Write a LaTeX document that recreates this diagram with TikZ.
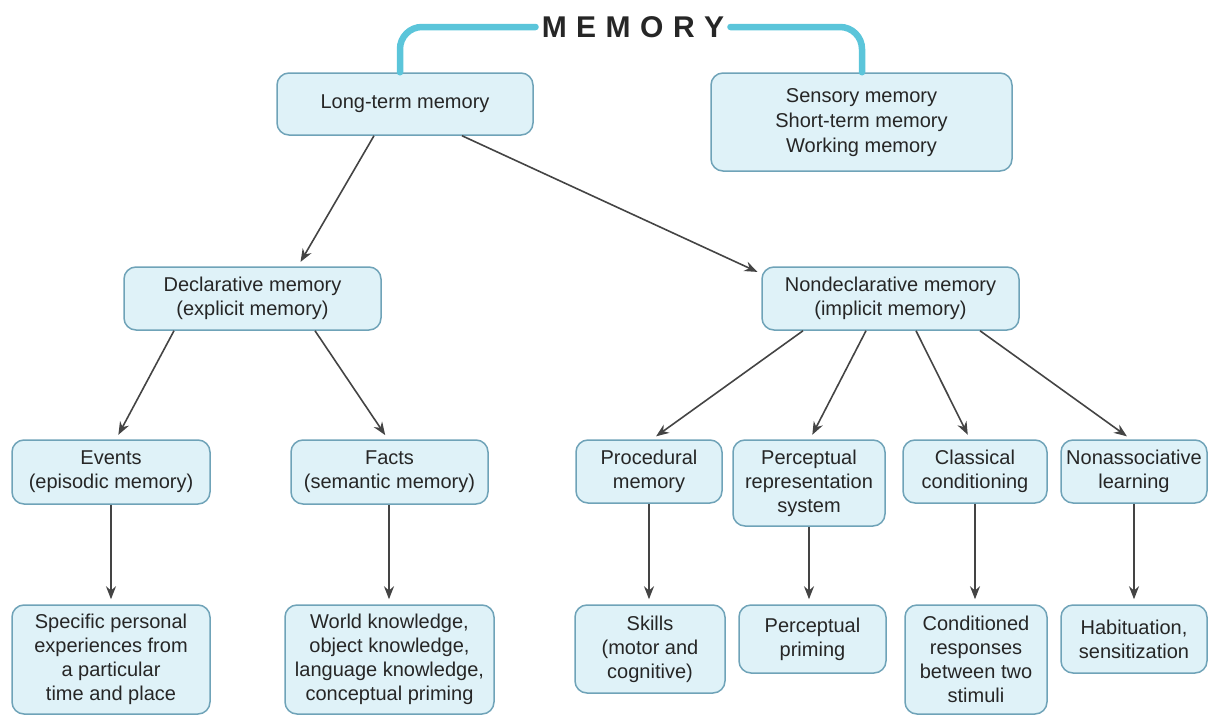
\documentclass[tikz,border=0pt]{standalone}
\usepackage{fontspec}
\setmainfont{Liberation Sans}
\usetikzlibrary{arrows.meta}
\definecolor{boxfill}{HTML}{DFF2F8}
\definecolor{boxborder}{HTML}{6FA3B8}
\definecolor{brk}{HTML}{5BC5DA}
\definecolor{arrc}{HTML}{444444}
\definecolor{textc}{HTML}{262626}
\tikzset{
  box/.style={draw=boxborder, fill=boxfill, rounded corners=12pt, line width=1.5pt,
    align=center, inner sep=0pt, text=textc, font=\fontsize{20}{24}\selectfont},
  arr/.style={draw=arrc, line width=1.6pt, -{Stealth[length=13pt,width=10pt]}, shorten >=5pt},
  bracket/.style={draw=brk, line width=6.5pt, line cap=round, rounded corners=22pt},
}
\begin{document}
\begin{tikzpicture}[x=1pt,y=-1pt]
\useasboundingbox (0,0) rectangle (1211,715);
% title
\node[inner xsep=6pt, inner ysep=0pt, text=textc, font=\fontsize{30}{30}\bfseries] (mem) at (633,27)
  {M\hspace{9.5pt}E\hspace{9.5pt}M\hspace{9.5pt}O\hspace{9.5pt}R\hspace{9.5pt}Y};
% level 1
\node[box, minimum width=256pt, minimum height=62pt] (ltm) at (405,104) {Long-term memory};
\node[box, minimum width=301pt, minimum height=98pt] (sens) at (861.5,122) {\rule{0pt}{16pt}Sensory memory\\[1pt]Short-term memory\\[1pt]Working memory};
% bracket
\draw[bracket] (mem.west) -| (ltm.north -| 400,0);
\draw[bracket] (mem.east) -| (sens.north -| 862,0);
% level 2
\node[box, minimum width=257pt, minimum height=63pt] (decl) at (252.5,298.5) {Declarative memory\\(explicit memory)};
\node[box, minimum width=257pt, minimum height=63pt] (nond) at (890.5,298.5) {Nondeclarative memory\\(implicit memory)};
% level 3
\node[box, minimum width=198pt, minimum height=64pt] (events) at (111,472) {Events\\(episodic memory)};
\node[box, minimum width=197pt, minimum height=64pt] (facts) at (389.5,472) {Facts\\(semantic memory)};
\node[box, minimum width=146pt, minimum height=63pt] (proc) at (649,471.5) {Procedural\\memory};
\node[box, minimum width=152pt, minimum height=86pt] (perc) at (809,483) {Perceptual\\representation\\system};
\node[box, minimum width=144pt, minimum height=63pt] (class) at (975,471.5) {Classical\\conditioning};
\node[box, minimum width=146pt, minimum height=63pt] (nonas) at (1134,471.5) {Nonassociative\\learning};
% level 4
\node[box, minimum width=198pt, minimum height=109pt] (spec) at (111,659.5) {Specific personal\\experiences from\\a particular\\time and place};
\node[box, minimum width=209pt, minimum height=109pt] (world) at (389.5,659.5) {World knowledge,\\object knowledge,\\language knowledge,\\conceptual priming};
\node[box, minimum width=150pt, minimum height=88pt] (skills) at (650,649) {Skills\\(motor and\\cognitive)};
\node[box, minimum width=147pt, minimum height=68pt] (pprim) at (812.5,639) {Perceptual\\priming};
\node[box, minimum width=142pt, minimum height=109pt] (cond) at (976,659.5) {Conditioned\\responses\\between two\\stimuli};
\node[box, minimum width=146pt, minimum height=68pt] (habit) at (1134,639) {Habituation,\\sensitization};
% arrows level 1 -> 2
\draw[arr] (ltm.south -| 374,0) -- (decl.north -| 298,0);
\draw[arr] (ltm.south -| 462,0) -- (762,274);
% level 2 -> 3
\draw[arr] (decl.south -| 174,0) -- (events.north -| 116,0);
\draw[arr] (decl.south -| 315,0) -- (facts.north -| 388,0);
\draw[arr] (nond.south -| 803,0) -- (proc.north -| 652,0);
\draw[arr] (nond.south -| 866,0) -- (perc.north -| 810,0);
\draw[arr] (nond.south -| 916,0) -- (class.north -| 970,0);
\draw[arr] (nond.south -| 980,0) -- (nonas.north -| 1131,0);
% level 3 -> 4
\draw[arr] (events.south -| 111,0) -- (spec.north -| 111,0);
\draw[arr] (facts.south -| 389,0) -- (world.north -| 389,0);
\draw[arr] (proc.south -| 649,0) -- (skills.north -| 649,0);
\draw[arr] (perc.south -| 809,0) -- (pprim.north -| 809,0);
\draw[arr] (class.south -| 975,0) -- (cond.north -| 975,0);
\draw[arr] (nonas.south -| 1134,0) -- (habit.north -| 1134,0);
\end{tikzpicture}
\end{document}
